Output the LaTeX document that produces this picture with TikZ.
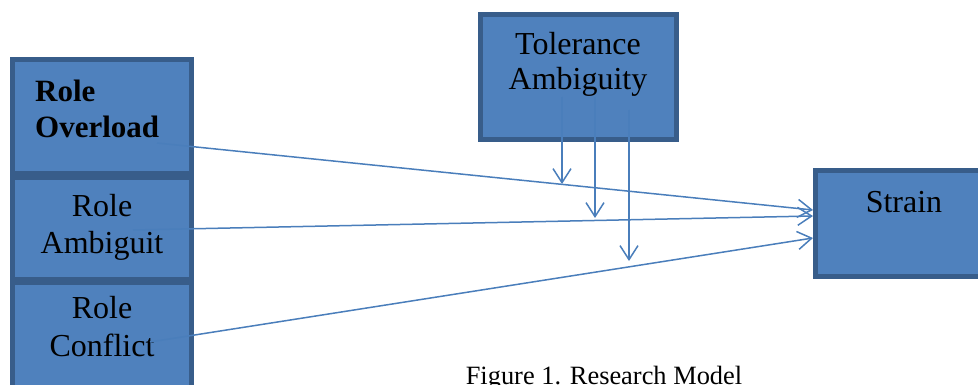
\documentclass[tikz,border=0pt]{standalone}
\usepackage{fontspec}
\setmainfont{Liberation Serif}
\usetikzlibrary{arrows.meta}
\definecolor{boxfill}{HTML}{4F81BD}
\definecolor{boxline}{HTML}{385D8A}
\definecolor{arrline}{HTML}{4A7EBB}
\tikzset{
  box/.style={draw=boxline, fill=boxfill, line width=5pt, rectangle, inner sep=0pt},
  lbl/.style={inner sep=0pt, font=\fontsize{32}{36}\selectfont, align=center, text=black},
  arr/.style={draw=arrline, line width=1.5pt, -{Straight Barb[length=14pt,width=18pt,line width=1.5pt]}},
}
\begin{document}
\begin{tikzpicture}[x=1pt,y=-1pt]
\useasboundingbox (0,0) rectangle (978,385);
\clip (0,0) rectangle (978,385);
% boxes
\node[box, minimum width=179pt, minimum height=114pt, anchor=north west] (ov) at (10,57) {};
\node[box, minimum width=179pt, minimum height=101pt, anchor=north west] (am) at (10,175.5) {};
\node[box, minimum width=179pt, minimum height=120pt, anchor=north west] (co) at (10,279.5) {};
\node[box, minimum width=196pt, minimum height=125pt, anchor=north west] (ta) at (478,12) {};
\node[box, minimum width=180pt, minimum height=106pt, anchor=north west] (st) at (813,168) {};
% texts (anchor base = baseline of the last line)
\node[lbl, anchor=base west, align=left, font=\fontsize{31}{36}\selectfont\bfseries] (tov) at (35,138) {Role\\Overload};
\node[lbl, anchor=base] (tam) at (102,253) {Role\\Ambiguit};
\node[lbl, anchor=base, font=\fontsize{32}{38}\selectfont] (tco) at (102,356) {Role\\Conflict};
\node[lbl, anchor=base, font=\fontsize{32}{35}\selectfont] (tta) at (578,90) {Tolerance\\Ambiguity};
\node[lbl, anchor=base] (tst) at (904,212) {Strain};
\node[inner sep=0pt, anchor=base, font=\fontsize{26.4}{30}\selectfont] (cap) at (604,384) {Figure 1. Research Model};
% connector end points
\coordinate (o1) at (157,143);
\coordinate (a1) at (133,230);
\coordinate (c1) at (150,342);
\coordinate (s1) at (813,210);
\coordinate (s2) at (813,216);
\coordinate (s3) at (813,238);
\coordinate (t1) at (562,97);
\coordinate (t2) at (595,97);
\coordinate (t3) at (629,110);
\coordinate (m1) at (562,184);
\coordinate (m2) at (595,218);
\coordinate (m3) at (629,261);
\draw[arr] (o1) -- (s1);
\draw[arr] (a1) -- (s2);
\draw[arr] (c1) -- (s3);
\draw[arr] (t1) -- (m1);
\draw[arr] (t2) -- (m2);
\draw[arr] (t3) -- (m3);
\end{tikzpicture}
\end{document}
